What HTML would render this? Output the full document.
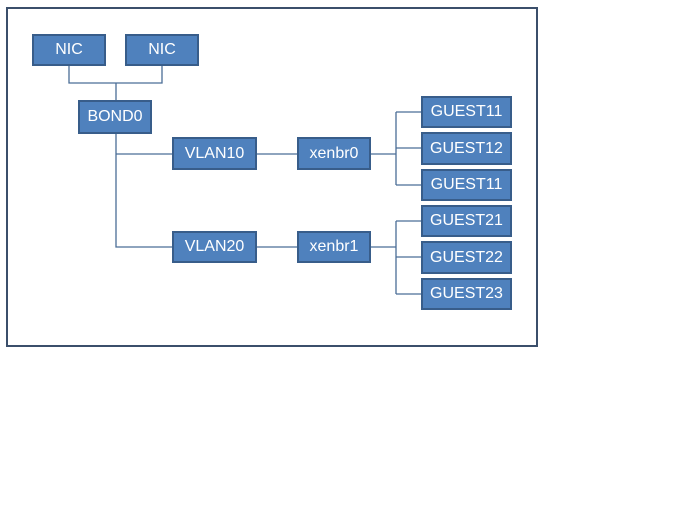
<!DOCTYPE html>
<html><head><style>
body{margin:0;width:700px;height:525px;background:#fff;position:relative;overflow:hidden;font-family:"Liberation Sans","DejaVu Sans",sans-serif}
.f{position:absolute;left:6px;top:7px;width:528px;height:336px;border:2px solid #3b4f6b}
.b{position:absolute;box-sizing:border-box;background:#4f81bd;border:2px solid #385d8a;color:#fff;font-size:16px;display:flex;align-items:center;justify-content:center}
svg{position:absolute;left:0;top:0}
</style></head><body>
<div class="f"></div>
<svg width="700" height="525"><g stroke="#4a6d96" stroke-width="1.3" fill="none">
<path d="M69 65V83H162V65M116 83V100"/>
<path d="M116 133V247H172M116 154H172"/>
<path d="M256 154H297M256 247H297"/>
<path d="M370 154H396M396 112V185M396 112H421M396 148H421M396 185H421"/>
<path d="M370 247H396M396 221V294M396 221H421M396 257H421M396 294H421"/>
</g></svg>
<div class="b" style="left:32px;top:34px;width:74px;height:32px">NIC</div>
<div class="b" style="left:125px;top:34px;width:74px;height:32px">NIC</div>
<div class="b" style="left:78px;top:100px;width:74px;height:34px">BOND0</div>
<div class="b" style="left:172px;top:137px;width:85px;height:33px">VLAN10</div>
<div class="b" style="left:172px;top:231px;width:85px;height:32px">VLAN20</div>
<div class="b" style="left:297px;top:137px;width:74px;height:33px">xenbr0</div>
<div class="b" style="left:297px;top:231px;width:74px;height:32px">xenbr1</div>
<div class="b" style="left:421px;top:96px;width:91px;height:32px">GUEST11</div>
<div class="b" style="left:421px;top:132px;width:91px;height:33px">GUEST12</div>
<div class="b" style="left:421px;top:169px;width:91px;height:32px">GUEST11</div>
<div class="b" style="left:421px;top:205px;width:91px;height:32px">GUEST21</div>
<div class="b" style="left:421px;top:241px;width:91px;height:33px">GUEST22</div>
<div class="b" style="left:421px;top:278px;width:91px;height:32px">GUEST23</div>
</body></html>
